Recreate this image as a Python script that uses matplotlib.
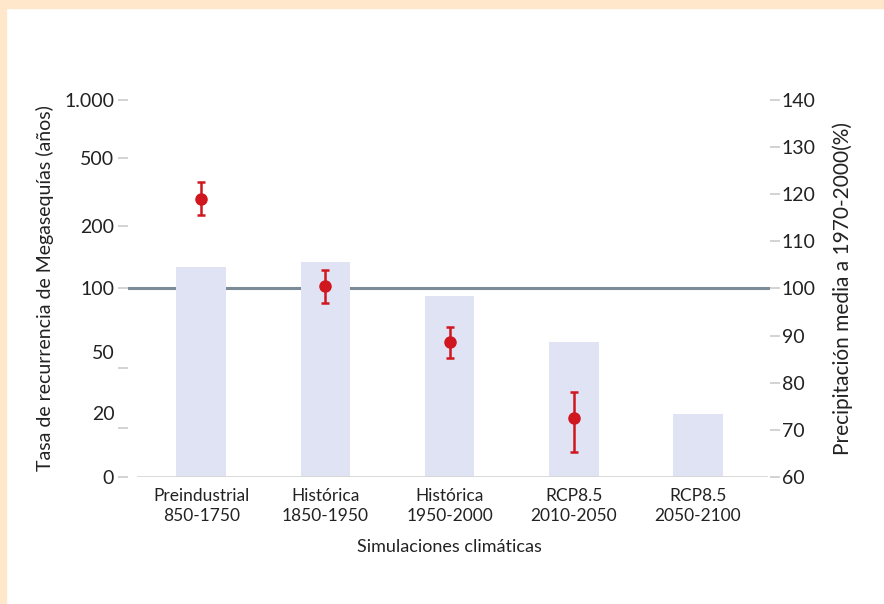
import numpy as np
import matplotlib
matplotlib.use("Agg")
import matplotlib.pyplot as plt
from matplotlib.patches import Rectangle
from matplotlib.transforms import offset_copy

plt.rcParams["font.family"] = ["Lato", "DejaVu Sans"]

# categories
labels = ["Preindustrial\n850-1750", "Histórica\n1850-1950", "Histórica\n1950-2000",
          "RCP8.5\n2010-2050", "RCP8.5\n2050-2100"]
# precipitation, % of 1970-2000 mean (bars, right axis)
precip = [104.6, 105.6, 98.4, 88.6, 73.4]
# megadrought recurrence (years, left axis) with error range
recur = [320, 104, 66, 25, np.nan]
recur_lo = [248, 91, 56, 10.4, np.nan]
recur_hi = [394, 130, 76, 38, np.nan]

# left axis is schematic: tick values placed at fixed heights of the right axis
rec_ticks = [0, 20, 50, 100, 200, 500, 1000]
rec_pos = [60, 70.3, 83.2, 100, 113.3, 127.7, 140]
rec_labels = ["0", "20", "50", "100", "200", "500", "1.000"]


def fwd(v):
    return np.interp(v, rec_ticks, rec_pos)


def inv(p):
    return np.interp(p, rec_pos, rec_ticks)


fig = plt.figure(figsize=(8.84, 6.04), dpi=100)
fig.patches.append(Rectangle((0, 1 - 8 / 604), 1, 8 / 604, transform=fig.transFigure,
                             color="#ffe7cb", zorder=0))
fig.patches.append(Rectangle((0, 0), 6 / 884, 1, transform=fig.transFigure,
                             color="#ffe7cb", zorder=0))

ax = fig.add_axes([128 / 884, 1 - 477 / 604, 642 / 884, 377 / 604])
ax2 = ax.twinx()

x = np.arange(len(labels))
ax.axhline(100, color="#7b8b97", lw=2.2, zorder=1)
ax.bar(x, precip, width=0.4, color="#dfe3f3", zorder=2)
ax.axhline(60, xmin=10 / 642, xmax=638 / 642, color="#d6d6d6", lw=2, zorder=3)
ax.set_ylim(60, 140)
ax.set_xlim(-0.59, 4.58)
ax.set_yticks(range(60, 141, 10))
ax.yaxis.tick_right()
ax.yaxis.set_label_position("right")
ax.tick_params(axis="y", direction="out", length=7, width=1.2, color="#cccccc",
               pad=1.5, labelsize=14, labelcolor="#222222")
ax.set_xticks(x, labels)
ax.tick_params(axis="x", length=0, pad=8, labelsize=12.5, labelcolor="#222222")
for t in ax.get_xticklabels():
    t.set_linespacing(1.3)
ax.set_xlabel("Simulaciones climáticas", fontsize=13, color="#222222", labelpad=11)
ax.set_ylabel("Precipitación media a 1970-2000(%)", fontsize=15, color="#222222",
              labelpad=12)

ax2.set_yscale("function", functions=(fwd, inv))
ax2.set_ylim(0, 1000)
y = np.array(recur)
yerr = np.array([y - np.array(recur_lo), np.array(recur_hi) - y])
ax2.errorbar(x, y, yerr=yerr, fmt="o", color="#d0171f", ms=8, elinewidth=1.8,
             capsize=3, capthick=1.8, zorder=5)
ax2.yaxis.tick_left()
ax2.yaxis.set_label_position("left")
ax2.set_yticks(rec_ticks)
ax2.set_yticklabels([lab if v not in (20, 50) else "" for v, lab in zip(rec_ticks, rec_labels)])
ax2.yaxis.set_minor_locator(matplotlib.ticker.NullLocator())
ax2.tick_params(axis="y", direction="out", length=7, width=1.2, color="#cccccc",
                pad=3, labelsize=14, labelcolor="#222222")
# the 20 and 50 labels sit above their tick marks in the original
for v, lab in zip(rec_ticks, rec_labels):
    if v in (20, 50):
        tr = offset_copy(ax2.get_yaxis_transform(), fig=fig, x=-13, y=14, units="dots")
        ax2.text(0, v, lab, transform=tr, ha="right", va="center", fontsize=14,
                 color="#222222")
ax2.set_ylabel("Tasa de recurrencia de Megasequías (años)", fontsize=14,
               color="#222222", labelpad=7)

for a in (ax, ax2):
    for s in a.spines.values():
        s.set_visible(False)

fig.savefig("out.png", dpi=100)
